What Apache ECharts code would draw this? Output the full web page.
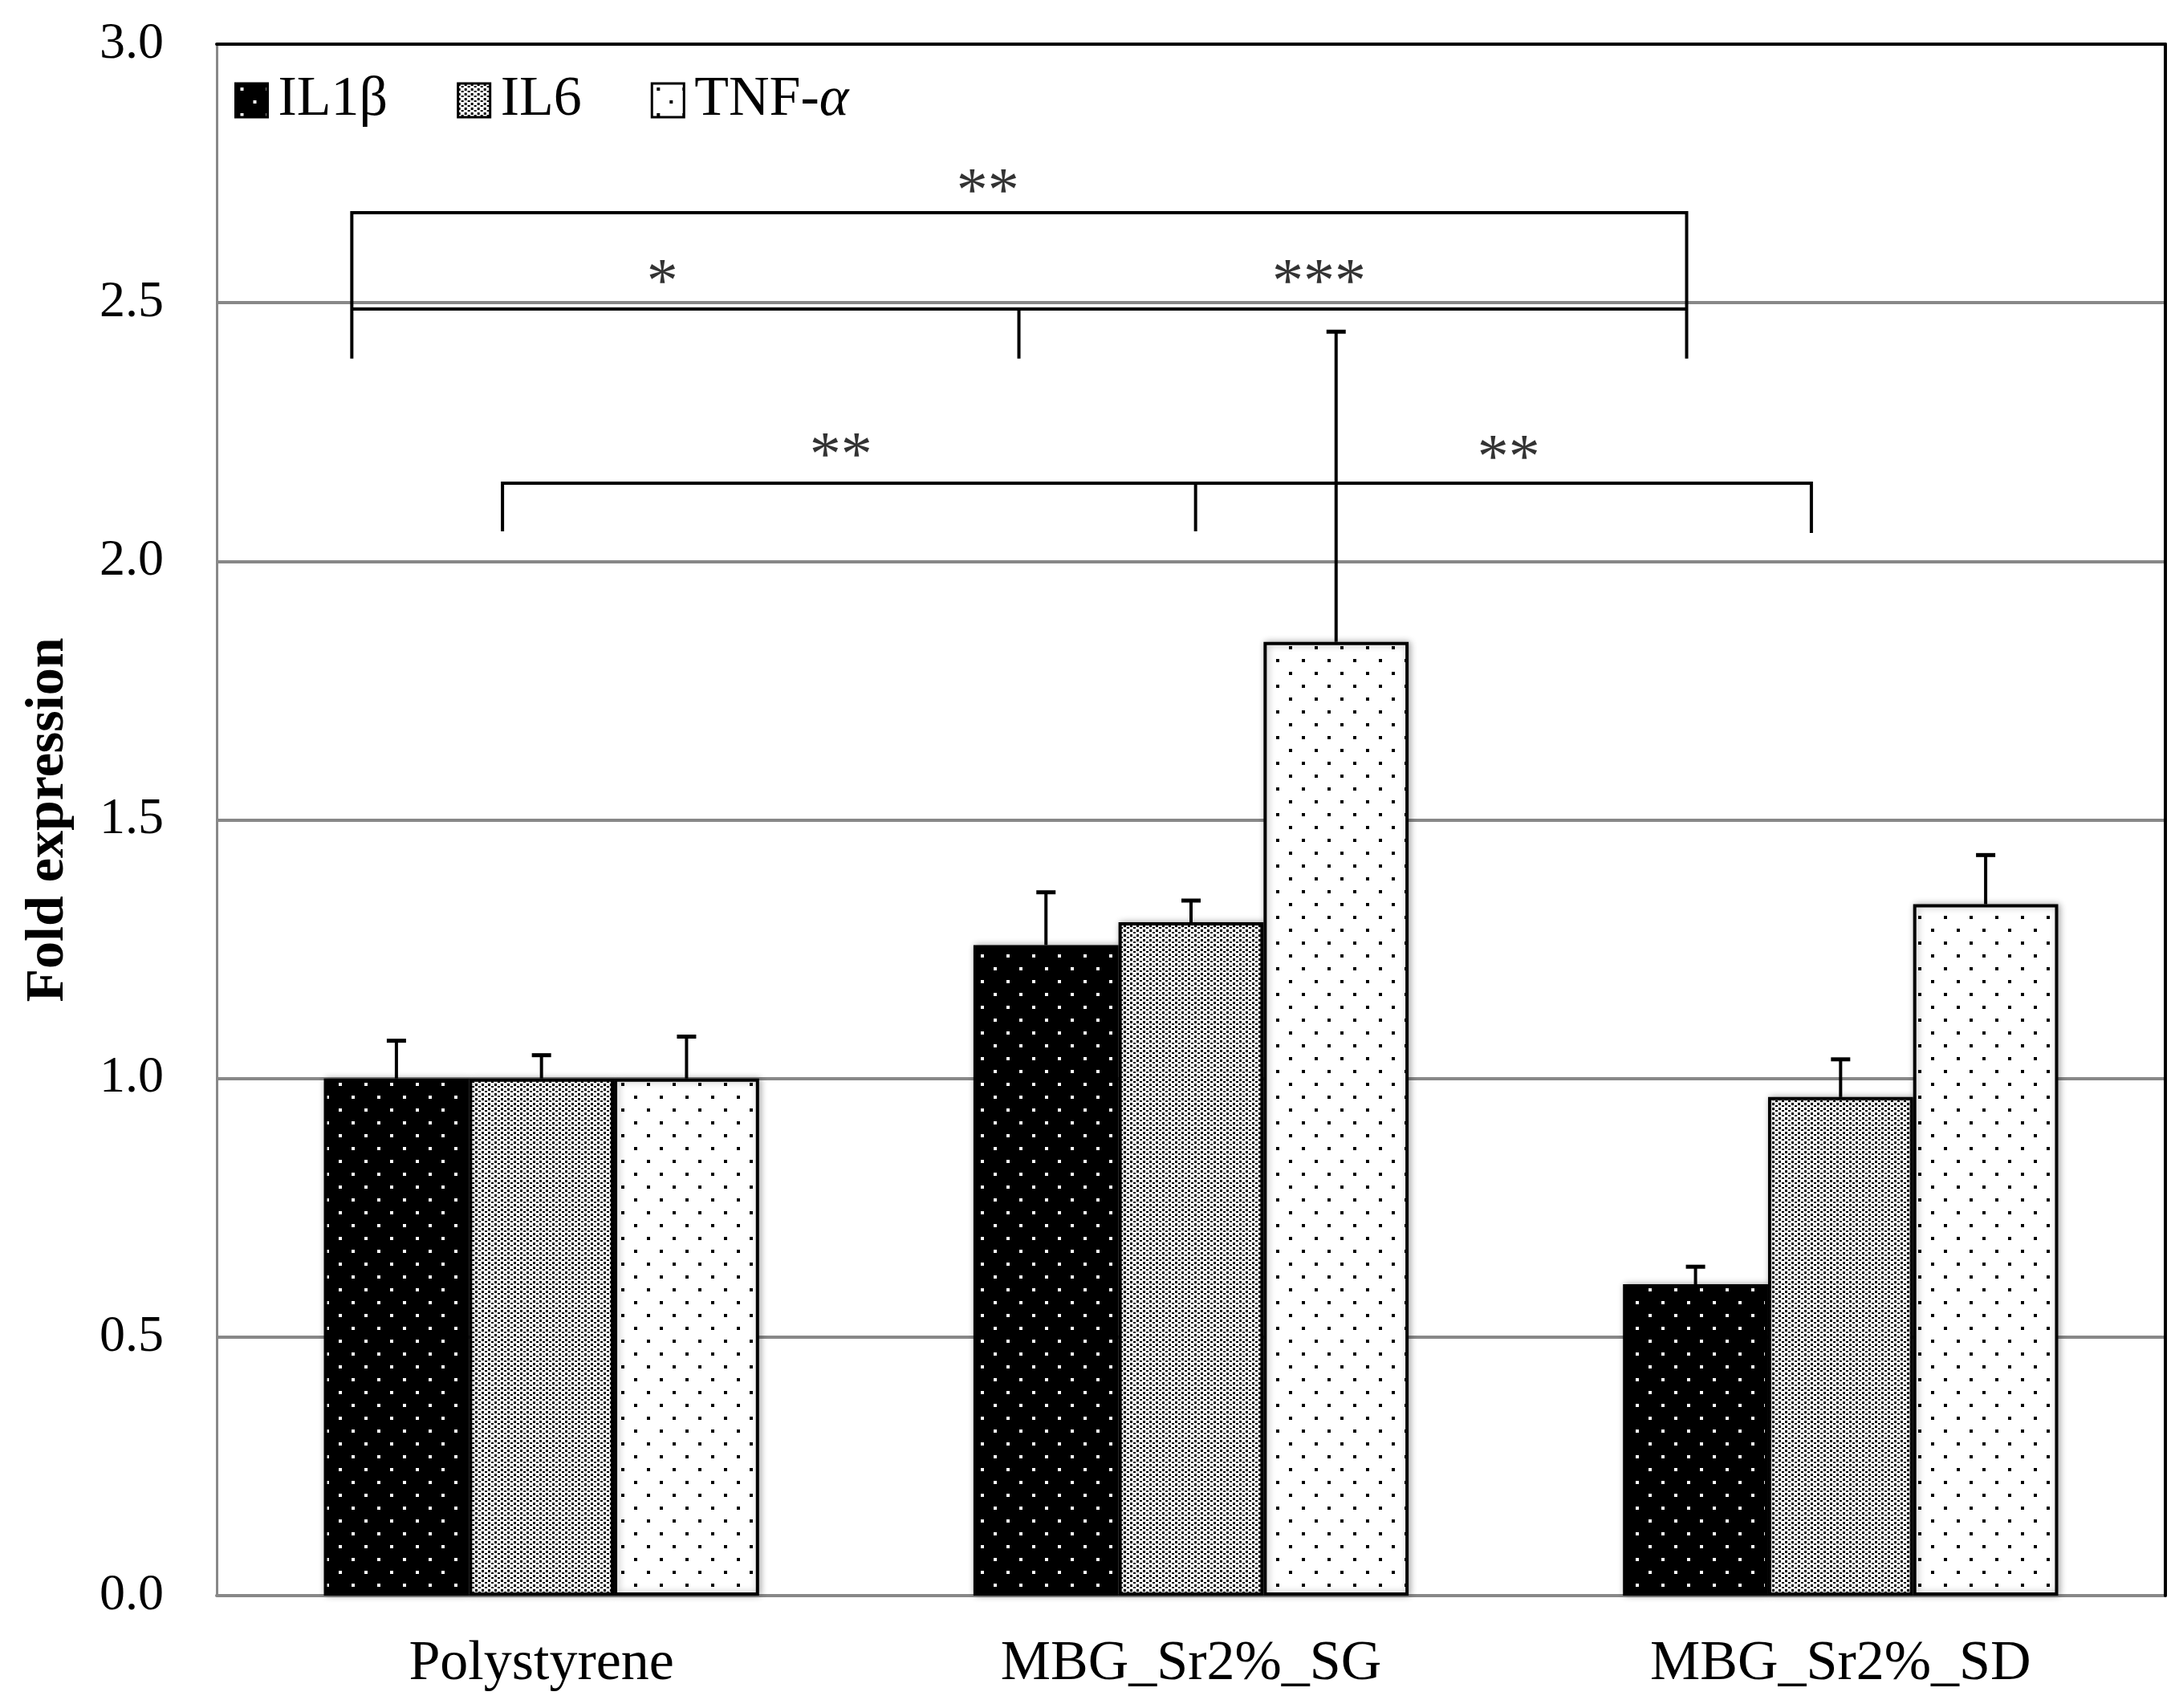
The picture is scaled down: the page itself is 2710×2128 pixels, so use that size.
<!DOCTYPE html>
<html>
<head>
<meta charset="utf-8">
<title>Fold expression</title>
<script src="https://cdn.jsdelivr.net/npm/echarts@6/dist/echarts.min.js"></script>
<style>
    html, body { margin: 0; padding: 0; background: #fff; }
    #chart { width: 2710px; height: 2128px; }
</style>
</head>
<body>
<div id="chart"></div>
<script>
// 数据
var categories = ['Polystyrene', 'MBG_Sr2%_SG', 'MBG_Sr2%_SD'];
var seriesNames = ['IL1β', 'IL6', 'TNF-α'];
var il1bMean = [1.00, 1.258, 0.602];
var il1bErr = [0.073, 0.102, 0.034];
var il6Mean = [1.00, 1.302, 0.964];
var il6Err = [0.045, 0.042, 0.073];
var tnfMean = [1.00, 1.844, 1.337];
var tnfErr = [0.081, 0.600, 0.095];

// 显著性括号 (x 为类目轴上的位置 0~3)
var bracketOuter = [[0.208, 2.392], [0.208, 2.674], [2.263, 2.674], [2.263, 2.392]];
var bracketInner = [[0.208, 2.488], [2.263, 2.488]];
var bracketInnerLeg = [[1.235, 2.488], [1.235, 2.392]];
var bracketLower = [[0.440, 2.058], [0.440, 2.151], [2.455, 2.151], [2.455, 2.055]];
var bracketLowerLeg = [[1.507, 2.151], [1.507, 2.058]];
var sigLabels = [
    [1.187, 2.71, '**'],
    [0.686, 2.535, '*'],
    [1.697, 2.535, '***'],
    [0.961, 2.20, '**'],
    [1.989, 2.195, '**']
];

var serif = "'Liberation Serif', 'DejaVu Serif', serif";
var barCatGap = 0.33;

// 填充图案
function makePattern(w, h, bg, fg, dots) {
    var c = document.createElement('canvas');
    c.width = w;
    c.height = h;
    var ctx = c.getContext('2d');
    ctx.fillStyle = bg;
    ctx.fillRect(0, 0, w, h);
    ctx.fillStyle = fg;
    dots.forEach(function (d) { ctx.fillRect(d[0], d[1], d[2], d[3]); });
    return { image: c, repeat: 'repeat' };
}

var patIL1b = makePattern(32, 32, '#000', '#fff', [[6, 5, 4, 4], [22, 21, 4, 4]]);
var patIL6 = makePattern(8, 6, '#fff', '#000', [[0, 0, 3, 3], [4, 3, 3, 2]]);
var patTNF = makePattern(32, 32, '#fff', '#000', [[6, 5, 4, 4], [22, 21, 4, 4]]);

function barSeries(name, values, pattern) {
    return {
        name: name,
        type: 'bar',
        xAxisIndex: 0,
        yAxisIndex: 0,
        barGap: '0%',
        barCategoryGap: (barCatGap * 100) + '%',
        data: values,
        itemStyle: {
            color: pattern,
            borderColor: '#000',
            borderWidth: 4,
            shadowColor: 'rgba(0,0,0,0.3)',
            shadowBlur: 8,
            shadowOffsetX: 2
        },
        z: 2
    };
}

// 误差线
function errorSeries(idx, means, errs) {
    return {
        type: 'custom',
        name: seriesNames[idx] + ' err',
        xAxisIndex: 0,
        yAxisIndex: 0,
        encode: { x: 0, y: 1 },
        z: 3,
        renderItem: function (params, api) {
            var cat = api.value(0);
            var base = api.coord([cat, api.value(1)]);
            var top = api.coord([cat, api.value(1) + api.value(2)]);
            var band = api.size([1, 0])[0];
            var bw = band * (1 - barCatGap) / 3;
            var x = top[0] + (idx - 1) * bw;
            return {
                type: 'group',
                children: [
                    { type: 'line', shape: { x1: x, y1: base[1], x2: x, y2: top[1] }, style: { stroke: '#000', lineWidth: 4 } },
                    { type: 'line', shape: { x1: x - 12, y1: top[1], x2: x + 12, y2: top[1] }, style: { stroke: '#000', lineWidth: 5 } }
                ]
            };
        },
        data: means.map(function (m, i) { return [i, m, errs[i]]; })
    };
}

function bracketSeries(points) {
    return {
        type: 'line',
        xAxisIndex: 1,
        yAxisIndex: 0,
        data: points,
        symbol: 'none',
        silent: true,
        lineStyle: { color: '#000', width: 4, join: 'miter', cap: 'butt' },
        z: 4
    };
}

var myChart = echarts.init(document.getElementById('chart'));

var option = {
    animation: false,
    backgroundColor: '#fff',
    grid: { left: 270, right: 12, top: 55, bottom: 140, show: false },
    legend: {
        data: seriesNames,
        left: 292,
        top: 90,
        padding: 0,
        icon: 'rect',
        itemWidth: 40,
        itemHeight: 42,
        itemGap: 86,
        itemStyle: { borderColor: '#000', borderWidth: 3, shadowBlur: 0 },
        textStyle: {
            fontFamily: serif,
            fontSize: 70,
            color: '#000',
            padding: [0, 0, 0, 8],
            rich: { it: { fontFamily: serif, fontSize: 70, fontStyle: 'italic', color: '#000' } }
        },
        formatter: function (name) {
            return name === 'TNF-α' ? 'TNF-{it|α}' : name;
        }
    },
    xAxis: [
        {
            type: 'category',
            data: categories,
            axisLine: { lineStyle: { color: '#888', width: 4 } },
            axisTick: { show: false },
            axisLabel: { fontFamily: serif, fontSize: 70, color: '#000', margin: 51 },
            splitLine: { show: false }
        },
        {
            type: 'value',
            min: 0,
            max: 3,
            position: 'top',
            z: 1,
            axisLine: { show: true, onZero: false, lineStyle: { color: '#000', width: 4 } },
            axisTick: { show: false },
            axisLabel: { show: false },
            splitLine: { show: false }
        }
    ],
    yAxis: [
        {
            type: 'value',
            min: 0,
            max: 3,
            interval: 0.5,
            name: 'Fold expression',
            nameLocation: 'middle',
            nameGap: 176,
            nameTextStyle: { fontFamily: serif, fontSize: 68, fontWeight: 'bold', color: '#000' },
            axisLine: { show: true, lineStyle: { color: '#888', width: 3 } },
            axisTick: { show: false },
            axisLabel: {
                fontFamily: serif,
                fontSize: 64,
                color: '#000',
                margin: 66,
                formatter: function (v) { return v.toFixed(1); }
            },
            splitLine: { lineStyle: { color: '#888', width: 4 } }
        },
        {
            type: 'value',
            min: 0,
            max: 3,
            position: 'right',
            z: 1,
            axisLine: { show: true, onZero: false, lineStyle: { color: '#000', width: 4 } },
            axisTick: { show: false },
            axisLabel: { show: false },
            splitLine: { show: false }
        }
    ],
    series: [
        barSeries(seriesNames[0], il1bMean, patIL1b),
        barSeries(seriesNames[1], il6Mean, patIL6),
        barSeries(seriesNames[2], tnfMean, patTNF),
        errorSeries(0, il1bMean, il1bErr),
        errorSeries(1, il6Mean, il6Err),
        errorSeries(2, tnfMean, tnfErr),
        bracketSeries(bracketOuter),
        bracketSeries(bracketInner),
        bracketSeries(bracketInnerLeg),
        bracketSeries(bracketLower),
        bracketSeries(bracketLowerLeg),
        {
            type: 'scatter',
            xAxisIndex: 1,
            yAxisIndex: 0,
            symbolSize: 0,
            silent: true,
            z: 5,
            data: sigLabels,
            label: {
                show: true,
                position: 'inside',
                fontFamily: serif,
                fontSize: 78,
                color: '#000',
                formatter: function (p) { return p.value[2]; }
            }
        }
    ]
};

myChart.setOption(option);
</script>
</body>
</html>
